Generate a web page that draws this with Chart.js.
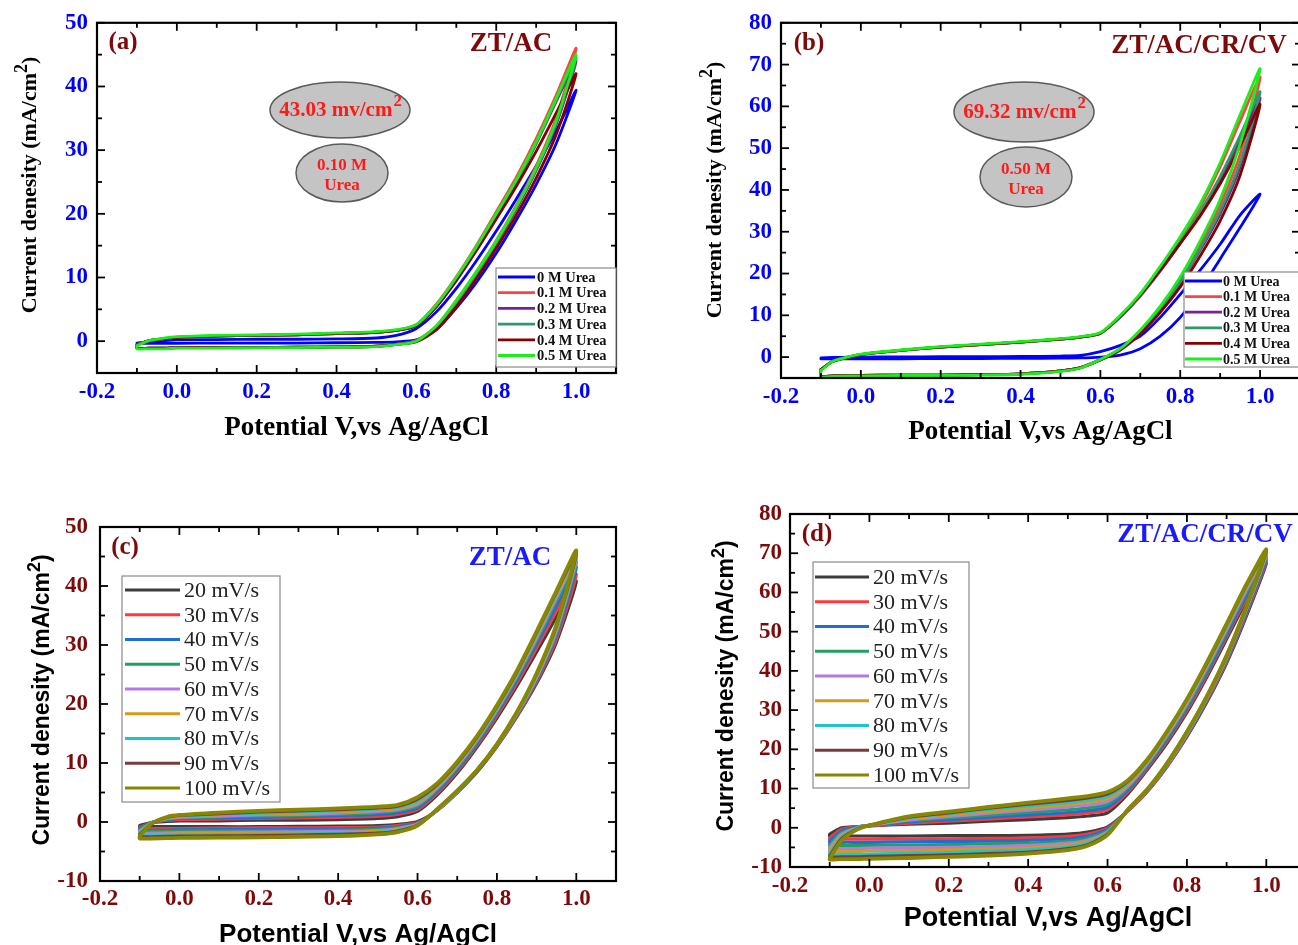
<!DOCTYPE html>
<html><head><meta charset="utf-8">
<script src="https://cdn.jsdelivr.net/npm/chart.js@4.4.1/dist/chart.umd.min.js"></script>
<style>
html,body{margin:0;padding:0;background:#fff;overflow:hidden;}
#wrap{position:relative;width:1298px;height:945px;overflow:hidden;background:#fff;}
canvas{position:absolute;}
</style></head><body>
<div id="wrap">
<canvas id="cA" width="650" height="470" style="left:0;top:0"></canvas>
<canvas id="cB" width="700" height="470" style="left:650px;top:0"></canvas>
<canvas id="cC" width="650" height="470" style="left:0;top:480px"></canvas>
<canvas id="cD" width="700" height="470" style="left:650px;top:480px"></canvas>
</div>
<script>
// ---------- shared potential grid (V vs Ag/AgCl) ----------
const potentialGrid = [-0.1, -0.07, -0.03, 0.0, 0.1, 0.2, 0.3, 0.4, 0.5, 0.55, 0.6, 0.65, 0.7, 0.75, 0.8, 0.85, 0.9, 0.95, 1.0];

// ---------- tick values ----------
const xMajorTicks = [-0.2, 0.0, 0.2, 0.4, 0.6, 0.8, 1.0];
const xMinorTicks = [-0.1, 0.1, 0.3, 0.5, 0.7, 0.9];
const yMajorA = [0, 10, 20, 30, 40, 50];
const yMinorA = [-5, 5, 15, 25, 35, 45];
const yMajorB = [0, 10, 20, 30, 40, 50, 60, 70, 80];
const yMinorB = [-5, 5, 15, 25, 35, 45, 55, 65, 75];
const yMajorC = [-10, 0, 10, 20, 30, 40, 50];
const yMinorC = [-5, 5, 15, 25, 35, 45];
const yMajorD = [-10, 0, 10, 20, 30, 40, 50, 60, 70, 80];
const yMinorD = [-5, 5, 15, 25, 35, 45, 55, 65, 75];

// ---------- legends ----------
const ureaLabels = ["0 M Urea", "0.1 M Urea", "0.2 M Urea", "0.3 M Urea", "0.4 M Urea", "0.5 M Urea"];
const ureaColors = ["#0000ff", "#ff4343", "#7a1f9c", "#2e9a68", "#850000", "#19f019"];
const rateLabels = ["20 mV/s", "30 mV/s", "40 mV/s", "50 mV/s", "60 mV/s", "70 mV/s", "80 mV/s", "90 mV/s", "100 mV/s"];
const rateColors = ["#3d3d3d", "#ff3838", "#1f6ddb", "#20a062", "#b27ae6", "#d49a1a", "#1cc6c8", "#7b3b3b", "#878700"];

// ---------- panel (a): ZT/AC, current density (mA/cm2), forward & reverse sweeps ----------
const a0_fwd = [-0.3, -0.1, 0.1, 0.2, 0.25, 0.3, 0.3, 0.35, 0.5, 0.9, 2.0, 4.6, 8.3, 12.6, 17.3, 22.3, 27.5, 33.0, 39.4];
const a0_rev = [-0.3, -0.35, -0.35, -0.35, -0.3, -0.3, -0.3, -0.25, -0.2, -0.1, 0.2, 1.8, 5.2, 9.2, 13.8, 19.0, 24.6, 31.0, 39.4];
const a1_fwd = [-0.6, 0.1, 0.4, 0.6, 0.8, 0.9, 1.0, 1.2, 1.4, 1.7, 2.6, 5.8, 10.1, 15.0, 20.3, 25.7, 31.8, 38.6, 46.0];
const a1_rev = [-1.1, -1.1, -1.1, -1.0, -1.0, -1.0, -0.95, -0.9, -0.8, -0.5, 0.1, 2.4, 6.4, 10.9, 15.8, 21.3, 27.5, 35.0, 46.0];
const a2_fwd = [-0.6, 0.1, 0.4, 0.6, 0.8, 0.9, 1.0, 1.2, 1.4, 1.7, 2.5, 5.6, 9.8, 14.6, 19.8, 25.0, 31.0, 37.6, 44.0];
const a2_rev = [-1.1, -1.1, -1.1, -1.0, -1.0, -1.0, -0.95, -0.9, -0.8, -0.5, 0.0, 2.2, 6.0, 10.5, 15.3, 20.7, 26.8, 34.0, 44.0];
const a3_fwd = [-0.6, 0.1, 0.4, 0.6, 0.8, 0.9, 1.0, 1.2, 1.4, 1.7, 2.5, 5.5, 9.7, 14.5, 19.7, 25.0, 31.1, 37.9, 44.5];
const a3_rev = [-1.1, -1.1, -1.1, -1.0, -1.0, -1.0, -0.95, -0.9, -0.8, -0.5, 0.0, 2.3, 6.1, 10.6, 15.5, 21.0, 27.0, 34.3, 44.5];
const a4_fwd = [-0.6, 0.1, 0.4, 0.6, 0.8, 0.9, 1.0, 1.2, 1.4, 1.7, 2.4, 5.4, 9.5, 14.2, 19.2, 24.3, 29.8, 35.8, 42.0];
const a4_rev = [-1.1, -1.1, -1.1, -1.0, -1.0, -1.0, -0.95, -0.9, -0.8, -0.5, -0.1, 1.8, 5.4, 9.8, 14.6, 19.8, 25.6, 32.4, 42.0];
const a5_fwd = [-0.7, 0.1, 0.5, 0.7, 0.9, 1.0, 1.1, 1.3, 1.5, 1.8, 2.6, 5.7, 10.0, 14.8, 20.0, 25.3, 31.3, 38.1, 45.0];
const a5_rev = [-1.2, -1.2, -1.2, -1.1, -1.1, -1.05, -1.0, -0.95, -0.85, -0.55, 0.0, 2.4, 6.4, 10.9, 15.7, 21.1, 27.2, 34.6, 45.0];

// ---------- panel (b): ZT/AC/CR/CV ----------
const b0_fwd = [-0.2, -0.1, 0.0, 0.0, 0.05, 0.1, 0.1, 0.15, 0.25, 0.4, 1.3, 2.8, 5.0, 9.5, 15.0, 20.8, 27.0, 34.0, 39.0];
const b0_rev = [-0.4, -0.4, -0.4, -0.4, -0.4, -0.35, -0.35, -0.3, -0.25, -0.2, 0.0, 0.5, 2.0, 5.0, 9.5, 16.0, 23.5, 31.0, 39.0];
const b1_fwd = [-3.0, -1.0, 0.0, 0.6, 1.6, 2.4, 3.0, 3.6, 4.3, 4.8, 5.8, 9.8, 15.0, 21.3, 28.3, 36.0, 45.5, 56.5, 67.0];
const b1_rev = [-4.6, -4.5, -4.4, -4.4, -4.3, -4.3, -4.2, -4.0, -3.3, -2.5, -0.6, 2.0, 6.3, 11.8, 18.7, 27.0, 36.5, 48.5, 67.0];
const b2_fwd = [-3.0, -1.0, 0.0, 0.6, 1.6, 2.4, 3.0, 3.6, 4.3, 4.8, 5.7, 9.6, 14.6, 20.6, 27.2, 34.2, 42.5, 52.0, 62.0];
const b2_rev = [-4.6, -4.5, -4.4, -4.4, -4.3, -4.3, -4.2, -4.0, -3.3, -2.5, -0.6, 1.9, 6.0, 11.3, 17.8, 25.6, 34.3, 45.5, 62.0];
const b3_fwd = [-3.0, -1.0, 0.0, 0.6, 1.6, 2.4, 3.0, 3.6, 4.3, 4.8, 5.7, 9.7, 14.8, 20.9, 27.6, 34.8, 43.2, 53.0, 63.5];
const b3_rev = [-4.6, -4.5, -4.4, -4.4, -4.3, -4.3, -4.2, -4.0, -3.3, -2.5, -0.6, 1.9, 6.1, 11.5, 18.0, 26.0, 35.0, 46.5, 63.5];
const b4_fwd = [-3.0, -1.0, 0.0, 0.6, 1.6, 2.4, 3.0, 3.6, 4.3, 4.8, 5.7, 9.8, 14.9, 20.8, 27.2, 33.8, 41.5, 50.5, 60.5];
const b4_rev = [-4.6, -4.5, -4.4, -4.4, -4.3, -4.3, -4.2, -4.0, -3.3, -2.5, -0.7, 1.7, 5.6, 10.7, 16.8, 24.2, 32.6, 43.5, 60.5];
const b5_fwd = [-3.2, -1.0, 0.1, 0.7, 1.7, 2.5, 3.1, 3.7, 4.4, 4.9, 5.9, 10.0, 15.2, 21.7, 28.8, 36.7, 46.5, 58.0, 69.0];
const b5_rev = [-4.7, -4.6, -4.5, -4.5, -4.4, -4.4, -4.3, -4.1, -3.4, -2.6, -0.6, 2.0, 6.5, 12.2, 19.2, 27.8, 37.7, 51.0, 69.0];

// ---------- panel (c): ZT/AC scan rates ----------
const c20_fwd = [-0.6, -0.1, 0.1, 0.2, 0.2, 0.3, 0.3, 0.4, 0.6, 0.9, 1.8, 4.6, 8.3, 12.7, 17.6, 23.0, 28.8, 34.8, 40.8];
const c20_rev = [-0.8, -0.8, -0.8, -0.8, -0.8, -0.8, -0.75, -0.7, -0.6, -0.4, 0.1, 2.0, 5.0, 8.5, 12.8, 17.8, 23.5, 30.5, 40.8];
const c30_fwd = [-0.9, -0.1, 0.3, 0.4, 0.5, 0.6, 0.7, 0.8, 1.0, 1.3, 2.1, 4.9, 8.6, 13.0, 18.0, 23.5, 29.5, 35.8, 42.0];
const c30_rev = [-1.1, -1.1, -1.1, -1.1, -1.05, -1.0, -1.0, -0.95, -0.85, -0.6, -0.1, 2.0, 5.0, 8.6, 12.9, 17.9, 23.8, 31.0, 42.0];
const c40_fwd = [-1.1, -0.1, 0.4, 0.6, 0.7, 0.8, 0.9, 1.1, 1.3, 1.6, 2.4, 5.2, 8.9, 13.3, 18.4, 24.0, 30.2, 36.7, 43.2];
const c40_rev = [-1.4, -1.4, -1.4, -1.35, -1.3, -1.3, -1.25, -1.2, -1.05, -0.8, -0.2, 2.0, 5.1, 8.7, 13.0, 18.1, 24.1, 31.6, 43.2];
const c50_fwd = [-1.3, -0.1, 0.5, 0.7, 0.9, 1.0, 1.1, 1.3, 1.6, 1.9, 2.7, 5.5, 9.2, 13.6, 18.7, 24.4, 30.7, 37.4, 44.0];
const c50_rev = [-1.6, -1.6, -1.6, -1.55, -1.5, -1.5, -1.45, -1.4, -1.25, -0.95, -0.3, 2.0, 5.1, 8.7, 13.0, 18.2, 24.3, 32.0, 44.0];
const c60_fwd = [-1.5, -0.2, 0.6, 0.8, 1.0, 1.2, 1.3, 1.5, 1.8, 2.1, 3.0, 5.8, 9.5, 13.9, 19.0, 24.8, 31.2, 38.0, 44.6];
const c60_rev = [-1.9, -1.9, -1.85, -1.8, -1.75, -1.7, -1.65, -1.6, -1.45, -1.1, -0.35, 2.0, 5.2, 8.8, 13.1, 18.3, 24.5, 32.4, 44.6];
const c70_fwd = [-1.7, -0.2, 0.7, 0.9, 1.2, 1.4, 1.5, 1.7, 2.0, 2.3, 3.3, 6.0, 9.7, 14.1, 19.2, 25.0, 31.6, 38.5, 45.0];
const c70_rev = [-2.1, -2.1, -2.05, -2.0, -1.95, -1.9, -1.85, -1.8, -1.6, -1.25, -0.45, 2.1, 5.2, 8.8, 13.1, 18.4, 24.7, 32.8, 45.0];
const c80_fwd = [-1.9, -0.2, 0.8, 1.0, 1.3, 1.5, 1.7, 1.9, 2.2, 2.5, 3.6, 6.2, 9.9, 14.3, 19.4, 25.2, 31.9, 38.8, 45.3];
const c80_rev = [-2.3, -2.3, -2.25, -2.2, -2.15, -2.1, -2.05, -1.95, -1.75, -1.4, -0.5, 2.1, 5.3, 8.8, 13.2, 18.5, 24.9, 33.1, 45.3];
const c90_fwd = [-2.1, -0.3, 0.8, 1.1, 1.4, 1.7, 1.9, 2.1, 2.4, 2.7, 3.9, 6.4, 10.0, 14.4, 19.6, 25.4, 32.1, 39.0, 45.6];
const c90_rev = [-2.5, -2.5, -2.45, -2.4, -2.35, -2.3, -2.2, -2.1, -1.9, -1.55, -0.55, 2.2, 5.3, 8.8, 13.2, 18.6, 25.1, 33.3, 45.6];
const c100_fwd = [-2.4, -0.3, 0.9, 1.2, 1.6, 1.9, 2.1, 2.3, 2.6, 2.9, 4.2, 6.6, 10.2, 14.6, 19.8, 25.6, 32.3, 39.2, 46.0];
const c100_rev = [-2.8, -2.8, -2.75, -2.7, -2.65, -2.6, -2.5, -2.4, -2.1, -1.7, -0.6, 2.2, 5.3, 8.8, 13.2, 18.6, 25.2, 33.5, 46.0];

// ---------- panel (d): ZT/AC/CR/CV scan rates ----------
const d20_fwd = [-1.6, 0.0, 0.3, 0.5, 0.9, 1.2, 1.7, 2.1, 2.6, 3.0, 3.8, 8.5, 14.8, 21.6, 29.4, 38.4, 48.1, 58.0, 67.5];
const d20_rev = [-2.2, -2.1, -2.1, -2.1, -2.1, -2.0, -2.0, -1.9, -1.6, -1.1, 0.2, 4.2, 9.2, 15.6, 23.2, 32.0, 42.0, 54.0, 67.5];
const d30_fwd = [-2.6, -0.4, 0.3, 0.5, 1.2, 1.7, 2.2, 2.8, 3.3, 3.8, 4.6, 9.0, 15.2, 22.1, 29.9, 38.9, 48.7, 58.6, 68.0];
const d30_rev = [-3.0, -2.9, -2.9, -2.9, -2.9, -2.8, -2.7, -2.6, -2.2, -1.6, -0.1, 4.2, 9.3, 15.7, 23.4, 32.3, 42.4, 54.5, 68.0];
const d40_fwd = [-3.4, -0.8, 0.2, 0.6, 1.5, 2.1, 2.7, 3.3, 3.9, 4.4, 5.3, 9.5, 15.6, 22.6, 30.5, 39.5, 49.3, 59.3, 68.6];
const d40_rev = [-3.8, -3.7, -3.7, -3.7, -3.6, -3.5, -3.4, -3.2, -2.8, -2.1, -0.4, 4.3, 9.4, 15.9, 23.6, 32.6, 42.8, 55.0, 68.6];
const d50_fwd = [-4.2, -1.2, 0.1, 0.6, 1.8, 2.5, 3.2, 3.9, 4.6, 5.1, 6.0, 10.0, 16.0, 23.1, 31.0, 40.1, 50.0, 60.0, 69.2];
const d50_rev = [-4.6, -4.5, -4.5, -4.5, -4.4, -4.3, -4.1, -3.9, -3.4, -2.6, -0.7, 4.3, 9.5, 16.0, 23.8, 32.8, 43.1, 55.4, 69.2];
const d60_fwd = [-5.0, -1.6, 0.0, 0.6, 2.0, 2.9, 3.7, 4.5, 5.3, 5.8, 6.7, 10.5, 16.4, 23.6, 31.6, 40.8, 50.6, 60.7, 69.6];
const d60_rev = [-5.4, -5.3, -5.3, -5.2, -5.1, -5.0, -4.8, -4.5, -3.9, -3.1, -1.0, 4.4, 9.6, 16.1, 24.0, 33.0, 43.4, 55.8, 69.6];
const d70_fwd = [-5.7, -2.0, -0.1, 0.6, 2.3, 3.3, 4.1, 5.0, 5.9, 6.5, 7.4, 11.0, 16.7, 24.0, 32.1, 41.3, 51.2, 61.3, 70.0];
const d70_rev = [-6.1, -6.0, -6.0, -5.9, -5.8, -5.6, -5.4, -5.1, -4.4, -3.5, -1.2, 4.4, 9.7, 16.3, 24.2, 33.2, 43.6, 56.1, 70.0];
const d80_fwd = [-6.5, -2.4, -0.2, 0.6, 2.5, 3.6, 4.6, 5.6, 6.5, 7.1, 8.0, 11.4, 17.0, 24.3, 32.5, 41.7, 51.6, 61.7, 70.3];
const d80_rev = [-6.9, -6.8, -6.8, -6.7, -6.5, -6.3, -6.0, -5.6, -4.9, -3.9, -1.4, 4.5, 9.7, 16.4, 24.4, 33.4, 43.8, 56.3, 70.3];
const d90_fwd = [-7.2, -2.8, -0.3, 0.6, 2.7, 3.8, 5.0, 6.0, 7.0, 7.6, 8.6, 11.7, 17.2, 24.5, 32.7, 41.9, 51.8, 61.9, 70.6];
const d90_rev = [-7.5, -7.4, -7.4, -7.3, -7.1, -6.9, -6.6, -6.2, -5.3, -4.3, -1.6, 4.5, 9.8, 16.5, 24.5, 33.5, 43.9, 56.4, 70.6];
const d100_fwd = [-7.8, -3.2, -0.4, 0.6, 2.9, 4.1, 5.3, 6.4, 7.5, 8.1, 9.1, 12.0, 17.4, 24.6, 32.8, 42.1, 52.0, 62.1, 71.0];
const d100_rev = [-8.1, -8.0, -8.0, -7.9, -7.7, -7.4, -7.1, -6.6, -5.7, -4.6, -1.8, 4.5, 9.8, 16.5, 24.5, 33.5, 44.0, 56.5, 71.0];

// ---------- helpers ----------
const SERIF = '"Liberation Serif", "Times New Roman", serif';
const SANS = '"Liberation Sans", Arial, sans-serif';

function buildLoop(fwd, rev) {
  const pts = [];
  for (let i = 0; i < potentialGrid.length; i++) pts.push({x: potentialGrid[i], y: fwd[i]});
  for (let i = potentialGrid.length - 2; i >= 0; i--) pts.push({x: potentialGrid[i], y: rev[i]});
  pts.push({x: potentialGrid[0], y: fwd[0]});
  return pts;
}

function frameTicksPlugin(cfg) {
  return {
    id: 'frameTicks',
    afterDatasetsDraw(chart) {
      const {ctx, chartArea: a, scales: {x, y}} = chart;
      ctx.save();
      ctx.strokeStyle = '#000';
      const seg = (x1, y1, x2, y2) => { ctx.beginPath(); ctx.moveTo(x1, y1); ctx.lineTo(x2, y2); ctx.stroke(); };
      ctx.lineWidth = 1.8;
      const xt = (vals, len) => vals.forEach(v => { const p = x.getPixelForValue(v); seg(p, a.bottom, p, a.bottom - len); seg(p, a.top, p, a.top + len); });
      const yt = (vals, len) => vals.forEach(v => { const p = y.getPixelForValue(v); seg(a.left, p, a.left + len, p); seg(a.right, p, a.right - len, p); });
      xt(xMajorTicks, 8); xt(xMinorTicks, 5);
      yt(cfg.yMajor, 8); yt(cfg.yMinor, 5);
      ctx.lineWidth = 2.2;
      ctx.strokeRect(a.left, a.top, a.right - a.left, a.bottom - a.top);
      ctx.restore();
    }
  };
}

// y-axis title with a real superscript "2" (Chart.js titles are single-font)
function yTitlePlugin(cfg) {
  return {
    id: 'yTitleSup',
    afterDraw(chart) {
      const ctx = chart.ctx, T = cfg.yTitle;
      const main = 'Current denesity (mA/cm', sup = '2', tail = ')';
      const f1 = 'bold ' + T.size + 'px ' + cfg.titleFamily;
      const f2 = 'bold ' + Math.round(T.size * 0.8) + 'px ' + cfg.titleFamily;
      ctx.save();
      ctx.font = f1; const w1 = ctx.measureText(main).width, w3 = ctx.measureText(tail).width;
      ctx.font = f2; const w2 = ctx.measureText(sup).width;
      const W = w1 + w2 + w3;
      ctx.translate(T.x - cfg.ox, T.y - cfg.oy);
      ctx.rotate(-Math.PI / 2);
      ctx.fillStyle = '#000'; ctx.textAlign = 'left'; ctx.textBaseline = 'middle';
      let sx = -W / 2;
      ctx.font = f1; ctx.fillText(main, sx, 0); sx += w1;
      ctx.font = f2; ctx.fillText(sup, sx, -T.size * 0.36); sx += w2;
      ctx.font = f1; ctx.fillText(tail, sx, 0);
      ctx.restore();
    }
  };
}

function legendPlugin(cfg) {
  return {
    id: 'boxLegend',
    afterDatasetsDraw(chart) {
      const L = cfg.legend, ctx = chart.ctx, ox = cfg.ox, oy = cfg.oy;
      ctx.save();
      ctx.fillStyle = '#fff';
      ctx.fillRect(L.x - ox, L.y - oy, L.w, L.h);
      ctx.strokeStyle = '#8a8a8a'; ctx.lineWidth = 1.2;
      ctx.strokeRect(L.x - ox, L.y - oy, L.w, L.h);
      ctx.font = L.font; ctx.textAlign = 'left'; ctx.textBaseline = 'middle';
      chart.data.datasets.forEach((ds, i) => {
        const yy = L.y0 + i * L.dy - oy;
        ctx.strokeStyle = ds.borderColor; ctx.lineWidth = L.lw;
        ctx.beginPath(); ctx.moveTo(L.lx1 - ox, yy); ctx.lineTo(L.lx2 - ox, yy); ctx.stroke();
        ctx.fillStyle = L.textColor;
        ctx.fillText(ds.label, L.tx - ox, yy + 1);
      });
      ctx.restore();
    }
  };
}

function annotPlugin(cfg) {
  return {
    id: 'annot',
    afterDatasetsDraw(chart) {
      const ctx = chart.ctx, ox = cfg.ox, oy = cfg.oy;
      ctx.save();
      (cfg.ellipses || []).forEach(e => {
        ctx.beginPath();
        ctx.ellipse(e.cx - ox, e.cy - oy, e.rx, e.ry, 0, 0, Math.PI * 2);
        ctx.fillStyle = '#c4c4c4'; ctx.fill();
        ctx.strokeStyle = '#5a5a5a'; ctx.lineWidth = 1.5; ctx.stroke();
        ctx.fillStyle = '#ff1a1a'; ctx.textBaseline = 'middle';
        if (e.sup) {
          ctx.font = 'bold ' + e.size + 'px ' + SERIF;
          const w1 = ctx.measureText(e.text).width;
          ctx.font = 'bold ' + (e.size * 0.8) + 'px ' + SERIF;
          const w2 = ctx.measureText(e.sup).width;
          const sx = e.cx - ox - (w1 + w2) / 2;
          ctx.textAlign = 'left';
          ctx.font = 'bold ' + e.size + 'px ' + SERIF;
          ctx.fillText(e.text, sx, e.cy - oy + 1);
          ctx.font = 'bold ' + (e.size * 0.8) + 'px ' + SERIF;
          ctx.fillText(e.sup, sx + w1 + 1, e.cy - oy - e.size * 0.38);
        } else {
          ctx.font = 'bold ' + e.size + 'px ' + SERIF;
          ctx.textAlign = 'center';
          e.lines.forEach((t, k) => ctx.fillText(t, e.cx - ox, e.cy - oy + e.lineOffsets[k]));
        }
      });
      (cfg.labels || []).forEach(l => {
        ctx.font = l.font; ctx.fillStyle = l.color; ctx.textAlign = 'center'; ctx.textBaseline = 'middle';
        ctx.fillText(l.text, l.x - ox, l.y - oy);
      });
      ctx.restore();
    }
  };
}

function makeChart(cfg) {
  const datasets = cfg.series.map((s, i) => ({
    label: s.label,
    data: buildLoop(s.fwd, s.rev),
    borderColor: s.color,
    borderWidth: s.width,
    pointRadius: 0,
    pointHoverRadius: 0,
    showLine: true,
    fill: false,
    tension: 0.25,
    borderJoinStyle: 'round',
    borderCapStyle: 'round',
    order: cfg.series.length - i
  }));
  return new Chart(document.getElementById(cfg.id), {
    type: 'scatter',
    data: {datasets},
    options: {
      responsive: false, animation: false, devicePixelRatio: 1,
      events: [],
      layout: {padding: cfg.pad},
      plugins: {legend: {display: false}, tooltip: {enabled: false}},
      scales: {
        x: {
          type: 'linear', min: -0.2, max: 1.1,
          grid: {display: false, drawTicks: false, tickLength: 0}, border: {display: false},
          afterBuildTicks: sc => { sc.ticks = xMajorTicks.map(v => ({value: v})); },
          afterFit: sc => { sc.height = cfg.xH; },
          ticks: {callback: v => Number(v).toFixed(1), autoSkip: false, maxRotation: 0, minRotation: 0,
                  font: {family: SERIF, size: 23, weight: 'bold'}, color: cfg.tickColor, padding: cfg.xTickPad},
          title: {display: true, text: 'Potential V,vs Ag/AgCl', color: '#000',
                  font: {family: cfg.titleFamily, size: cfg.xTitleSize, weight: 'bold'},
                  padding: {top: 0, bottom: cfg.xTitlePad}}
        },
        y: {
          type: 'linear', min: cfg.yMin, max: cfg.yMax,
          grid: {display: false, drawTicks: false, tickLength: 0}, border: {display: false},
          afterBuildTicks: sc => { sc.ticks = cfg.yMajor.map(v => ({value: v})); },
          afterFit: sc => { sc.width = cfg.yW; },
          ticks: {callback: v => String(v), autoSkip: false,
                  font: {family: SERIF, size: 23, weight: 'bold'}, color: cfg.tickColor, padding: cfg.yTickPad},
          title: {display: false}
        }
      }
    },
    plugins: [frameTicksPlugin(cfg), legendPlugin(cfg), annotPlugin(cfg), yTitlePlugin(cfg)]
  });
}

const ureaA = [[a0_fwd, a0_rev], [a1_fwd, a1_rev], [a2_fwd, a2_rev], [a3_fwd, a3_rev], [a4_fwd, a4_rev], [a5_fwd, a5_rev]];
const ureaB = [[b0_fwd, b0_rev], [b1_fwd, b1_rev], [b2_fwd, b2_rev], [b3_fwd, b3_rev], [b4_fwd, b4_rev], [b5_fwd, b5_rev]];
const rateC = [[c20_fwd, c20_rev], [c30_fwd, c30_rev], [c40_fwd, c40_rev], [c50_fwd, c50_rev], [c60_fwd, c60_rev], [c70_fwd, c70_rev], [c80_fwd, c80_rev], [c90_fwd, c90_rev], [c100_fwd, c100_rev]];
const rateD = [[d20_fwd, d20_rev], [d30_fwd, d30_rev], [d40_fwd, d40_rev], [d50_fwd, d50_rev], [d60_fwd, d60_rev], [d70_fwd, d70_rev], [d80_fwd, d80_rev], [d90_fwd, d90_rev], [d100_fwd, d100_rev]];

const ureaSeries = arr => arr.map((p, i) => ({label: ureaLabels[i], color: ureaColors[i], fwd: p[0], rev: p[1], width: 2.8}));
const rateSeries = arr => arr.map((p, i) => ({label: rateLabels[i], color: rateColors[i], fwd: p[0], rev: p[1], width: i === 8 ? 3.8 : 3.2}));

const DARKRED = '#7d0a0a';

// (a)
makeChart({
  id: 'cA', ox: 0, oy: 0,
  series: ureaSeries(ureaA), yMin: -5, yMax: 50, yMajor: yMajorA, yMinor: yMinorA,
  pad: {left: 0, right: 34, top: 18, bottom: 0}, yW: 97, xH: 97,
  tickColor: '#0000ff', xTickPad: 5, yTickPad: 9,
  titleFamily: SERIF, xTitleSize: 27, xTitlePad: 26,
  yTitle: {x: 30, y: 185, size: 22},
  legend: {x: 496, y: 268, w: 120, h: 99, y0: 277, dy: 15.7, lx1: 498, lx2: 535, tx: 537, lw: 2.8,
           font: 'bold 14.5px ' + SERIF, textColor: '#111'},
  ellipses: [
    {cx: 340, cy: 110, rx: 70, ry: 28, text: '43.03 mv/cm', sup: '2', size: 21},
    {cx: 342, cy: 173, rx: 46, ry: 29, lines: ['0.10 M', 'Urea'], lineOffsets: [-7, 13], size: 17}
  ],
  labels: [
    {text: '(a)', x: 123, y: 43, font: 'bold 25px ' + SERIF, color: DARKRED},
    {text: 'ZT/AC', x: 511, y: 44, font: 'bold 27px ' + SERIF, color: DARKRED}
  ]
});

// (b)
makeChart({
  id: 'cB', ox: 650, oy: 0,
  series: ureaSeries(ureaB), yMin: -5, yMax: 80, yMajor: yMajorB, yMinor: yMinorB,
  pad: {left: 0, right: 50, top: 21, bottom: 0}, yW: 131, xH: 92,
  tickColor: '#0000ff', xTickPad: 5, yTickPad: 9,
  titleFamily: SERIF, xTitleSize: 27, xTitlePad: 22,
  yTitle: {x: 715, y: 190, size: 22},
  legend: {x: 1184, y: 272, w: 130, h: 95, y0: 281, dy: 15.6, lx1: 1185, lx2: 1222, tx: 1223, lw: 2.8,
           font: 'bold 14px ' + SERIF, textColor: '#111'},
  ellipses: [
    {cx: 1024, cy: 112, rx: 70, ry: 30, text: '69.32 mv/cm', sup: '2', size: 21},
    {cx: 1026, cy: 177, rx: 46, ry: 30, lines: ['0.50 M', 'Urea'], lineOffsets: [-7, 13], size: 17}
  ],
  labels: [
    {text: '(b)', x: 809, y: 44, font: 'bold 25px ' + SERIF, color: DARKRED},
    {text: 'ZT/AC/CR/CV', x: 1199, y: 46, font: 'bold 27px ' + SERIF, color: DARKRED}
  ]
});

// (c)
makeChart({
  id: 'cC', ox: 0, oy: 480,
  series: rateSeries(rateC), yMin: -10, yMax: 50, yMajor: yMajorC, yMinor: yMinorC,
  pad: {left: 0, right: 34, top: 47, bottom: 0}, yW: 100, xH: 69,
  tickColor: DARKRED, xTickPad: 4, yTickPad: 12,
  titleFamily: SANS, xTitleSize: 26, xTitlePad: 0,
  yTitle: {x: 43, y: 700, size: 23},
  legend: {x: 122, y: 576, w: 158, h: 226, y0: 590, dy: 24.75, lx1: 125, lx2: 180, tx: 184, lw: 3,
           font: '22px ' + SERIF, textColor: '#222'},
  labels: [
    {text: '(c)', x: 125, y: 548, font: 'bold 25px ' + SERIF, color: DARKRED},
    {text: 'ZT/AC', x: 510, y: 558, font: 'bold 27px ' + SERIF, color: '#1a1aff'}
  ]
});

// (d)
makeChart({
  id: 'cD', ox: 650, oy: 480,
  series: rateSeries(rateD), yMin: -10, yMax: 80, yMajor: yMajorD, yMinor: yMinorD,
  pad: {left: 0, right: 44, top: 34, bottom: 0}, yW: 140, xH: 83,
  tickColor: DARKRED, xTickPad: 5, yTickPad: 8,
  titleFamily: SANS, xTitleSize: 27, xTitlePad: 15,
  yTitle: {x: 727, y: 686, size: 23},
  legend: {x: 813, y: 562, w: 156, h: 226, y0: 577, dy: 24.75, lx1: 815, lx2: 869, tx: 873, lw: 3,
           font: '22px ' + SERIF, textColor: '#222'},
  labels: [
    {text: '(d)', x: 817, y: 535, font: 'bold 25px ' + SERIF, color: DARKRED},
    {text: 'ZT/AC/CR/CV', x: 1205, y: 535, font: 'bold 27px ' + SERIF, color: '#1a1aff'}
  ]
});
</script>
</body></html>
